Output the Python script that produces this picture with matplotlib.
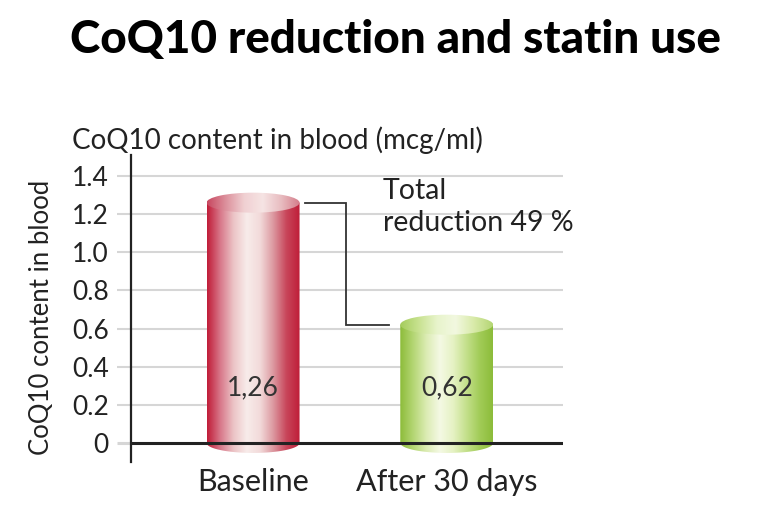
import numpy as np
import matplotlib
matplotlib.use("Agg")
import matplotlib.pyplot as plt
from matplotlib.colors import LinearSegmentedColormap
from matplotlib.patches import PathPatch, Ellipse
from matplotlib.path import Path

# ---- data ----
categories = ["Baseline", "After 30 days"]
values = [1.26, 0.62]
value_labels = ["1,26", "0,62"]
yticks = [0, 0.2, 0.4, 0.6, 0.8, 1.0, 1.2, 1.4]
ytick_labels = ["0", "0.2", "0.4", "0.6", "0.8", "1.0", "1.2", "1.4"]
title = "CoQ10 reduction and statin use"
unit_label = "CoQ10 content in blood (mcg/ml)"
ylabel = "CoQ10 content in blood"
annotation = "Total\nreduction 49 %"

plt.rcParams['font.family'] = ['Lato', 'DejaVu Sans']

body_colors = [
    ["#c01c38", "#d8788a", "#ecc4c6", "#f8ecea", "#f2dada", "#dc98a0", "#c8455a", "#bf1e38"],
    ["#8cbc3a", "#b4d674", "#dcecb4", "#f4f9e4", "#e6f2c4", "#c4e08c", "#a2cc58", "#8cbc3a"],
]
top_colors = [
    ["#c84860", "#dc909c", "#f0d0d2", "#f6e4e4", "#e8bcc0", "#d47c8a"],
    ["#a4cc5c", "#c8e290", "#e8f4cc", "#f2f8e0", "#d8eaa8", "#b4d674"],
]

fig = plt.figure(figsize=(7.68, 5.21), dpi=100)
ax = fig.add_axes([131/768, 1-462/521, (563-131)/768, (462-155)/521])

hw = 0.24      # half width of cylinder (data units)
eh = 0.105     # ellipse height (data units)
xs = np.arange(len(categories))

grad = np.linspace(0, 1, 256).reshape(1, -1)
for i, (x, v) in enumerate(zip(xs, values)):
    cmap_b = LinearSegmentedColormap.from_list(f"b{i}", body_colors[i])
    cmap_t = LinearSegmentedColormap.from_list(f"t{i}", top_colors[i])
    t = np.linspace(np.pi, 2*np.pi, 60)
    px = list(x + hw*np.cos(t)) + [x + hw, x - hw, x - hw]
    py = list((eh/2)*np.sin(t)) + [v, v, 0]
    verts = np.column_stack([px, py])
    codes = [Path.MOVETO] + [Path.LINETO]*(len(verts)-2) + [Path.CLOSEPOLY]
    body = PathPatch(Path(verts, codes), facecolor='none', edgecolor='none', zorder=3)
    ax.add_patch(body)
    im = ax.imshow(grad, cmap=cmap_b, aspect='auto', extent=[x-hw, x+hw, -eh/2, v],
                   zorder=3, interpolation='bicubic')
    im.set_clip_path(body)
    top = Ellipse((x, v), 2*hw, eh, facecolor='none', edgecolor='none', zorder=4)
    ax.add_patch(top)
    im2 = ax.imshow(grad, cmap=cmap_t, aspect='auto', extent=[x-hw, x+hw, v-eh/2, v+eh/2],
                    zorder=4, interpolation='bicubic')
    im2.set_clip_path(top)
    ax.text(x, 0.29, value_labels[i], ha='center', va='center', fontsize=19,
            color='#333333', zorder=5)

# connector line
xm = 0.48
ax.plot([xs[0]+hw+0.03, xm, xm, xs[1]-hw-0.06],
        [values[0], values[0], values[1], values[1]],
        color='#333333', lw=1.3, zorder=5, solid_joinstyle='miter')
ax.text(0.67, 1.39, annotation, ha='left', va='top', fontsize=20.5,
        color='#222222', linespacing=1.3, zorder=5)

ax.set_xlim(-0.63, 1.6)
ax.set_ylim(-0.1, 1.51)

# grid
for yt in yticks[1:]:
    ax.axhline(yt, color='#d6d6d6', lw=1.5, zorder=1)
ax.axhline(0, color='#222222', lw=2.2, zorder=6)

ax.set_yticks(yticks)
ax.set_yticklabels(ytick_labels, fontsize=19, color='#222222')
ax.tick_params(axis='y', length=10, width=1.5, color='#d6d6d6', pad=6)
ax.yaxis.get_major_ticks()[0].tick1line.set_color('#222222')
ax.yaxis.get_major_ticks()[0].tick1line.set_markeredgewidth(2.2)

ax.set_xticks(xs)
ax.set_xticklabels(categories, fontsize=22, color='#222222')
ax.tick_params(axis='x', length=0, pad=4)

for s in ['top', 'right', 'bottom']:
    ax.spines[s].set_visible(False)
ax.spines['left'].set_color('#222222')
ax.spines['left'].set_linewidth(1.6)
ax.spines['left'].set_zorder(7)

fig.text(395/768, 1-40/521, title, ha='center', va='center', fontsize=33,
         fontweight='black', color='black')
fig.text(72/768, 1-140/521, unit_label, ha='left', va='center', fontsize=20, color='#222222')
fig.text(42/768, 1-317/521, ylabel, ha='center', va='center', rotation=90,
         fontsize=18.5, color='#222222')

fig.savefig("out.png", dpi=100)
